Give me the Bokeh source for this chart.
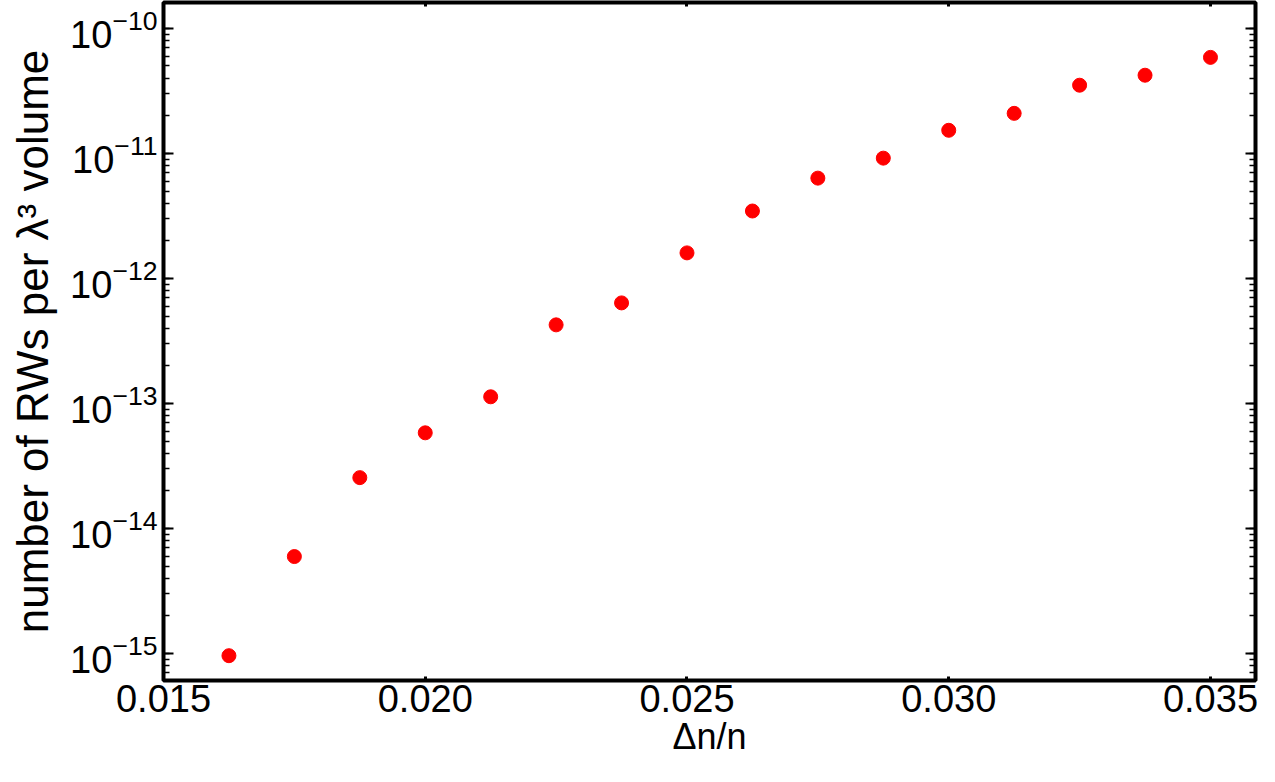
from bokeh.plotting import figure
from bokeh.models import LinearAxis, LogAxis, Range1d, FixedTicker, LogTicker, ColumnDataSource
from bokeh.embed import file_html
from bokeh.resources import INLINE

# data
dn_over_n = [0.01625, 0.0175, 0.01875, 0.02, 0.02125, 0.0225, 0.02375, 0.025,
             0.02625, 0.0275, 0.02875, 0.03, 0.03125, 0.0325, 0.03375, 0.035]
rw_density = [9.6e-16, 5.96e-15, 2.55e-14, 5.82e-14, 1.13e-13, 4.25e-13, 6.37e-13, 1.60e-12,
              3.46e-12, 6.34e-12, 9.16e-12, 1.53e-11, 2.09e-11, 3.51e-11, 4.22e-11, 5.86e-11]
x_ticks = [0.015, 0.020, 0.025, 0.030, 0.035]
x_tick_labels = ["0.015", "0.020", "0.025", "0.030", "0.035"]

FONT = "Liberation Sans"
FS = "38px"

p = figure(width=1259, height=766, output_backend="svg", toolbar_location=None,
           y_axis_type="log",
           x_range=Range1d(0.015, 0.03586), y_range=Range1d(6.08e-16, 1.61e-10),
           min_border_left=163, min_border_right=4, min_border_top=2, min_border_bottom=86,
           x_axis_label="Δn/n", y_axis_label="number of RWs per λ³ volume")
p.grid.visible = False
p.outline_line_color = "black"
p.outline_line_width = 4
p.background_fill_color = "white"
p.border_fill_color = "white"

src = ColumnDataSource(dict(x=dn_over_n, y=rw_density))
p.scatter("x", "y", source=src, size=14, fill_color="#ff0000", line_color="#ff0000")

xt = FixedTicker(ticks=x_ticks)
overrides = {t: l for t, l in zip(x_ticks, x_tick_labels)}

xa = p.xaxis[0]
xa.ticker = xt
xa.major_label_overrides = overrides
ya = p.yaxis[0]
ya.ticker = LogTicker(num_minor_ticks=10)

for ax in (xa, ya):
    ax.axis_line_color = None
    ax.major_tick_out = 0
    ax.minor_tick_out = 0
    ax.major_tick_line_color = "black"
    ax.minor_tick_line_color = "black"
    ax.major_label_text_font = FONT
    ax.major_label_text_font_size = FS
    ax.major_label_text_color = "black"
    ax.axis_label_text_font = FONT
    ax.axis_label_text_font_style = "normal"
    ax.axis_label_text_color = "black"

xa.axis_label_text_font_size = "36px"
ya.axis_label_text_font_size = "44px"

xa.major_tick_in = 4
xa.major_tick_line_width = 3
xa.minor_tick_line_color = None
xa.major_label_standoff = 4
xa.axis_label_standoff = 1

ya.major_tick_in = 10
ya.major_tick_line_width = 2
ya.minor_tick_in = 6
ya.minor_tick_line_width = 1.5
ya.major_label_standoff = 6
ya.axis_label_standoff = 10

top = LinearAxis(ticker=FixedTicker(ticks=x_ticks))
right = LogAxis(ticker=LogTicker(num_minor_ticks=10))
for ax in (top, right):
    ax.axis_line_color = None
    ax.major_tick_out = 0
    ax.minor_tick_out = 0
    ax.major_label_text_font_size = "1px"
    ax.major_label_text_color = None
    ax.major_label_standoff = 0
    ax.major_tick_line_color = "black"
    ax.minor_tick_line_color = "black"
top.major_tick_in = 4
top.major_tick_line_width = 3
top.minor_tick_line_color = None
right.major_tick_in = 10
right.major_tick_line_width = 2
right.minor_tick_in = 6
right.minor_tick_line_width = 1.5
p.add_layout(top, "above")
p.add_layout(right, "right")

open("out.html", "w").write(file_html(p, INLINE))
